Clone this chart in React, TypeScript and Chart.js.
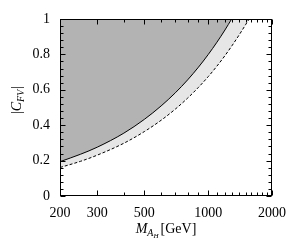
import React, { useEffect, useRef } from "react";
import { Chart, registerables } from "chart.js";
Chart.register(...registerables);

// Solid boundary (dark region above)
const massSolid = [200, 250, 300, 400, 500, 600, 700, 800, 900, 1000, 1100, 1200, 1290];
const cfvSolid = [0.194, 0.236, 0.276, 0.355, 0.433, 0.509, 0.583, 0.656, 0.728, 0.799, 0.869, 0.938, 1.0];
// Dashed boundary (light region between)
const massDashed = [200, 250, 300, 400, 500, 600, 700, 800, 900, 1000, 1100, 1200, 1300, 1400, 1500, 1560];
const cfvDashed = [0.161, 0.196, 0.231, 0.298, 0.364, 0.428, 0.491, 0.553, 0.614, 0.674, 0.734, 0.793, 0.852, 0.91, 0.967, 1.0];

const xTickLabels = [200, 300, 500, 1000, 2000];
const xMinorTicks = [200, 300, 400, 500, 600, 700, 800, 900, 1000, 1100, 1200, 1300, 1400, 1500, 1600, 1700, 1800, 1900, 2000];
const yTickLabels = [0, 0.2, 0.4, 0.6, 0.8, 1];
const yMinorTicks = [0, 0.04, 0.08, 0.12, 0.16, 0.2, 0.24, 0.28, 0.32, 0.36, 0.4, 0.44, 0.48, 0.52, 0.56, 0.6, 0.64, 0.68, 0.72, 0.76, 0.8, 0.84, 0.88, 0.92, 0.96, 1];

const SERIF = '"Liberation Serif", "Times New Roman", serif';

const framePlugin = {
  id: "frame",
  afterDraw(chart: any) {
    const { ctx, chartArea: a, scales } = chart;
    const xs = scales.x;
    const ys = scales.y;
    ctx.save();
    ctx.strokeStyle = "#000";
    ctx.lineWidth = 1;
    const L = Math.round(a.left) + 0.5;
    const R = Math.round(a.right) - 0.5;
    const T = Math.round(a.top) + 0.5;
    const B = Math.round(a.bottom) - 0.5;
    ctx.strokeRect(L, T, R - L, B - T);
    ctx.beginPath();
    for (const v of xMinorTicks) {
      const px = Math.round(xs.getPixelForValue(v)) + 0.5;
      const len = xTickLabels.includes(v) ? 5 : 3;
      ctx.moveTo(px, B);
      ctx.lineTo(px, B - len);
      ctx.moveTo(px, T);
      ctx.lineTo(px, T + len);
    }
    for (const v of yMinorTicks) {
      const py = Math.round(ys.getPixelForValue(v)) + 0.5;
      const major = yTickLabels.some((t) => Math.abs(t - v) < 1e-6);
      const len = major ? 5 : 3;
      ctx.moveTo(L, py);
      ctx.lineTo(L + len, py);
      ctx.moveTo(R, py);
      ctx.lineTo(R - len, py);
    }
    ctx.stroke();

    // axis titles
    ctx.fillStyle = "#000";
    ctx.textBaseline = "alphabetic";
    ctx.textAlign = "left";
    const f1 = `italic 14px ${SERIF}`;
    const f2 = `italic 10px ${SERIF}`;
    const f3 = `italic 7px ${SERIF}`;
    const f4 = `14px ${SERIF}`;
    ctx.font = f1; const wM = ctx.measureText("M").width;
    ctx.font = f2; const wA = ctx.measureText("A").width;
    ctx.font = f3; const wH = ctx.measureText("H").width;
    ctx.font = f4; const wG = ctx.measureText("[GeV]").width;
    const total = wM + wA + wH + 2 + wG;
    let x = (a.left + a.right) / 2 - total / 2;
    const by = 233;
    ctx.font = f1; ctx.fillText("M", x, by); x += wM;
    ctx.font = f2; ctx.fillText("A", x, by + 3); x += wA;
    ctx.font = f3; ctx.fillText("H", x, by + 5); x += wH + 2;
    ctx.font = f4; ctx.fillText("[GeV]", x, by);

    // y title: |C_{FV}|
    ctx.translate(21, 100);
    ctx.rotate(-Math.PI / 2);
    ctx.font = f4; const wBar = ctx.measureText("|").width;
    ctx.font = f1; const wC = ctx.measureText("C").width;
    ctx.font = f2; const wFV = ctx.measureText("FV").width;
    const tot2 = wBar * 2 + wC + wFV + 1;
    let y = -tot2 / 2;
    ctx.font = f4; ctx.fillText("|", y, 0); y += wBar;
    ctx.font = f1; ctx.fillText("C", y, 0); y += wC;
    ctx.font = f2; ctx.fillText("FV", y, 3); y += wFV + 1;
    ctx.font = f4; ctx.fillText("|", y, 0);
    ctx.restore();
  },
};

export default function App() {
  const ref = useRef<HTMLCanvasElement | null>(null);
  useEffect(() => {
    if (!ref.current) return;
    const chart = new Chart(ref.current, {
      type: "line",
      data: {
        datasets: [
          {
            label: "solid",
            data: massSolid.map((m, i) => ({ x: m, y: cfvSolid[i] })),
            borderColor: "#000",
            borderWidth: 1,
            backgroundColor: "#b3b3b3",
            fill: "end",
            pointRadius: 0,
            cubicInterpolationMode: "monotone",
          },
          {
            label: "dashed",
            data: massDashed.map((m, i) => ({ x: m, y: cfvDashed[i] })),
            borderColor: "#000",
            borderWidth: 1,
            borderDash: [3, 2],
            backgroundColor: "#e6e6e6",
            fill: "end",
            pointRadius: 0,
            cubicInterpolationMode: "monotone",
          },
        ],
      },
      options: {
        responsive: false,
        animation: false,
        layout: { padding: { top: 19, right: 28, left: 0, bottom: 0 } },
        plugins: { legend: { display: false }, tooltip: { enabled: false } },
        scales: {
          x: {
            type: "logarithmic",
            min: 200,
            max: 2000,
            grid: { display: false, drawTicks: false },
            border: { display: false },
            afterBuildTicks: (s: any) => {
              s.ticks = xTickLabels.map((v) => ({ value: v }));
            },
            afterFit: (s: any) => {
              s.height = 49;
            },
            ticks: {
              autoSkip: false,
              maxRotation: 0,
              padding: 9,
              color: "#000",
              font: { family: SERIF, size: 14 },
              callback: (v: any) => String(v),
            },
          },
          y: {
            type: "linear",
            min: 0,
            max: 1,
            grid: { display: false, drawTicks: false },
            border: { display: false },
            afterBuildTicks: (s: any) => {
              s.ticks = yTickLabels.map((v) => ({ value: v }));
            },
            afterFit: (s: any) => {
              s.width = 60;
            },
            ticks: {
              padding: 10,
              color: "#000",
              font: { family: SERIF, size: 14 },
              callback: (v: any) => String(Number(Number(v).toFixed(1))),
            },
          },
        },
      },
      plugins: [framePlugin],
    } as any);
    return () => chart.destroy();
  }, []);
  return (
    <div style={{ position: "fixed", left: 0, top: 0, width: 300, height: 245, background: "#fff" }}>
      <canvas ref={ref} width={300} height={245} />
    </div>
  );
}
